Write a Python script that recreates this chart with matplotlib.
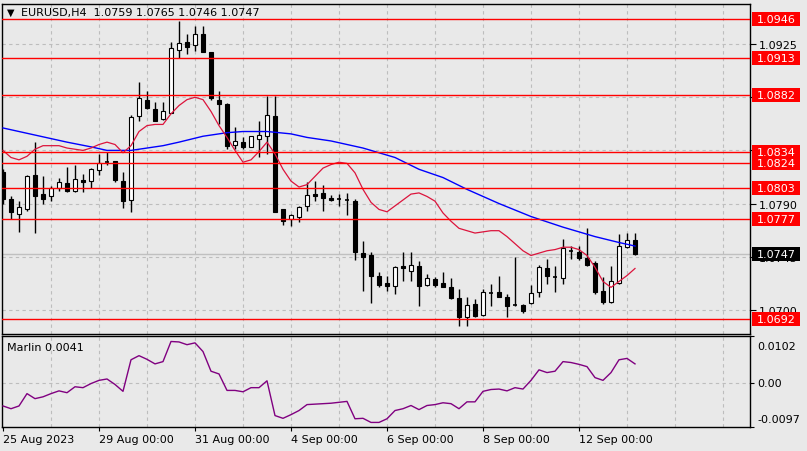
import matplotlib
matplotlib.use('Agg')
import matplotlib.pyplot as plt
from matplotlib.patches import Rectangle
import numpy as np

symbol = 'EURUSD,H4'

opens = [1.0817, 1.0794, 1.0781, 1.0785, 1.0814, 1.0798, 1.0796, 1.0803, 1.0807, 1.0801,
         1.0810, 1.0809, 1.0818, 1.0824, 1.0826, 1.0809, 1.0793, 1.0864, 1.0878, 1.0870,
         1.0862, 1.0867, 1.0920, 1.0927, 1.0924, 1.0934, 1.0918, 1.0878, 1.0874, 1.0840,
         1.0842, 1.0838, 1.0845, 1.0847, 1.0864, 1.0785, 1.0777, 1.0779, 1.0788, 1.0798,
         1.0799, 1.0795, 1.0794, 1.0793, 1.0792, 1.0748, 1.0746, 1.0729, 1.0723, 1.0720,
         1.0737, 1.0733, 1.0737, 1.0721, 1.0726, 1.0723, 1.0719, 1.0710, 1.0694, 1.0705,
         1.0696, 1.0714, 1.0715, 1.0711, 1.0705, 1.0704, 1.0706, 1.0715, 1.0735, 1.0728,
         1.0727, 1.0751, 1.0749, 1.0744, 1.0740, 1.0716, 1.0707, 1.0723, 1.0753, 1.0759]
highs = [1.0819, 1.0796, 1.0792, 1.0814, 1.0842, 1.0813, 1.0805, 1.0812, 1.0821, 1.0823,
         1.0815, 1.0820, 1.0832, 1.0834, 1.0826, 1.0817, 1.0865, 1.0893, 1.0885, 1.0876,
         1.0876, 1.0927, 1.0945, 1.0934, 1.0940, 1.0940, 1.0918, 1.0885, 1.0875, 1.0855,
         1.0846, 1.0847, 1.0860, 1.0881, 1.0881, 1.0785, 1.0781, 1.0788, 1.0808, 1.0809,
         1.0806, 1.0797, 1.0798, 1.0799, 1.0794, 1.0758, 1.0749, 1.0732, 1.0729, 1.0737,
         1.0749, 1.0749, 1.0741, 1.0730, 1.0728, 1.0732, 1.0727, 1.0718, 1.0711, 1.0709,
         1.0718, 1.0722, 1.0729, 1.0713, 1.0745, 1.0705, 1.0721, 1.0738, 1.0743, 1.0737,
         1.0760, 1.0754, 1.0754, 1.0769, 1.0741, 1.0728, 1.0737, 1.0764, 1.0765, 1.0765]
lows = [1.0790, 1.0777, 1.0766, 1.0784, 1.0765, 1.0790, 1.0792, 1.0801, 1.0800, 1.0800,
        1.0800, 1.0803, 1.0814, 1.0823, 1.0808, 1.0786, 1.0783, 1.0860, 1.0870, 1.0860,
        1.0861, 1.0867, 1.0913, 1.0917, 1.0919, 1.0918, 1.0878, 1.0857, 1.0836, 1.0836,
        1.0836, 1.0838, 1.0829, 1.0832, 1.0783, 1.0772, 1.0771, 1.0774, 1.0784, 1.0792,
        1.0784, 1.0792, 1.0788, 1.0780, 1.0742, 1.0716, 1.0706, 1.0719, 1.0716, 1.0713,
        1.0724, 1.0724, 1.0703, 1.0720, 1.0719, 1.0719, 1.0709, 1.0686, 1.0686, 1.0694,
        1.0695, 1.0703, 1.0711, 1.0694, 1.0703, 1.0697, 1.0705, 1.0711, 1.0722, 1.0715,
        1.0722, 1.0743, 1.0742, 1.0737, 1.0713, 1.0705, 1.0706, 1.0722, 1.0752, 1.0746]
closes = [1.0794, 1.0783, 1.0787, 1.0813, 1.0796, 1.0794, 1.0803, 1.0808, 1.0801, 1.0811,
          1.0808, 1.0819, 1.0824, 1.0825, 1.0810, 1.0792, 1.0863, 1.0879, 1.0871, 1.0860,
          1.0868, 1.0922, 1.0926, 1.0923, 1.0934, 1.0918, 1.0879, 1.0874, 1.0839, 1.0843,
          1.0838, 1.0847, 1.0848, 1.0865, 1.0783, 1.0775, 1.0780, 1.0787, 1.0797, 1.0796,
          1.0795, 1.0793, 1.0794, 1.0793, 1.0749, 1.0745, 1.0729, 1.0721, 1.0720, 1.0736,
          1.0735, 1.0738, 1.0720, 1.0727, 1.0721, 1.0719, 1.0710, 1.0694, 1.0704, 1.0695,
          1.0715, 1.0714, 1.0711, 1.0703, 1.0704, 1.0699, 1.0714, 1.0736, 1.0729, 1.0728,
          1.0752, 1.0750, 1.0744, 1.0738, 1.0715, 1.0707, 1.0724, 1.0754, 1.0759, 1.0747]

fast_ma = [1.0835, 1.0829, 1.0827, 1.0830, 1.0836, 1.0839, 1.0839, 1.0839, 1.0837, 1.0836,
           1.0835, 1.0837, 1.0840, 1.0842, 1.0840, 1.0833, 1.0839, 1.0851, 1.0856, 1.0857,
           1.0857, 1.0866, 1.0873, 1.0878, 1.0880, 1.0878, 1.0868, 1.0856, 1.0846, 1.0835,
           1.0825, 1.0827, 1.0834, 1.0842, 1.0832, 1.0819, 1.0809, 1.0804, 1.0806, 1.0813,
           1.0820, 1.0823, 1.0825, 1.0824, 1.0816, 1.0802, 1.0791, 1.0785, 1.0783, 1.0788,
           1.0793, 1.0798, 1.0799, 1.0796, 1.0792, 1.0782, 1.0775, 1.0769, 1.0767, 1.0765,
           1.0766, 1.0767, 1.0767, 1.0762, 1.0756, 1.0750, 1.0746, 1.0748, 1.0750, 1.0751,
           1.0753, 1.0753, 1.0751, 1.0746, 1.0736, 1.0724, 1.0719, 1.0724, 1.0729, 1.0735]

slow_ma_idx = [0, 4, 8, 11, 13, 16, 20, 22, 25, 28, 30, 33, 36, 38, 41, 45, 49, 52, 55, 58,
               62, 66, 70, 74, 77, 79]
slow_ma = [1.0854, 1.0848, 1.0842, 1.0838, 1.0835, 1.0835, 1.0839, 1.0842, 1.0847, 1.0850,
           1.0851, 1.0851, 1.0849, 1.0846, 1.0843, 1.0837, 1.0829, 1.0819, 1.0812, 1.0802,
           1.0790, 1.0779, 1.0770, 1.0762, 1.0757, 1.0754]

marlin = [-0.0051, -0.0057, -0.0051, -0.0024, -0.0035, -0.0031, -0.0024, -0.0018, -0.0022, -0.0009,
          -0.0011, -0.0002, 0.0005, 0.0008, -0.0004, -0.0019, 0.0050, 0.0059, 0.0051, 0.0041,
          0.0046, 0.0090, 0.0089, 0.0083, 0.0087, 0.0068, 0.0025, 0.0019, -0.0017, -0.0017,
          -0.0020, -0.0011, -0.0011, 0.0004, -0.0072, -0.0078, -0.0070, -0.0061, -0.0048, -0.0047,
          -0.0046, -0.0045, -0.0043, -0.0041, -0.0079, -0.0078, -0.0087, -0.0087, -0.0079, -0.0061,
          -0.0057, -0.0050, -0.0059, -0.0050, -0.0048, -0.0044, -0.0046, -0.0057, -0.0042, -0.0042,
          -0.0019, -0.0015, -0.0014, -0.0018, -0.0011, -0.0014, 0.0005, 0.0028, 0.0022, 0.0025,
          0.0046, 0.0044, 0.0040, 0.0035, 0.0011, 0.0005, 0.0022, 0.0050, 0.0053, 0.0041]

levels = [1.0946, 1.0913, 1.0882, 1.0834, 1.0824, 1.0803, 1.0777, 1.0692]
price_ticks = [1.0700, 1.0745, 1.0790, 1.0835, 1.0880, 1.0925]
price_tick_labels = ['1.0700', '1.0745', '1.0790', '', '', '1.0925']
bid = 1.0747
ind_ticks = [0.0102, 0.00, -0.0097]
ind_tick_labels = ['0.0102', '0.00', '-0.0097']
date_idx = [0, 12, 24, 36, 48, 60, 72]
date_labels = ['25 Aug 2023', '29 Aug 00:00', '31 Aug 00:00', '4 Sep 00:00',
               '6 Sep 00:00', '8 Sep 00:00', '12 Sep 00:00']
grid_idx = list(range(6, 92, 6))

BG = '#e9e9e9'
GRID = '#bdbdbd'
W, H = 807, 452
plt.rcParams['font.family'] = ['DejaVu Sans']

fig = plt.figure(figsize=(W / 100, H / 100), dpi=100, facecolor=BG)
ax = fig.add_axes([2 / W, 1 - 335 / H, 748 / W, 330 / H])
ax2 = fig.add_axes([2 / W, 1 - 428 / H, 748 / W, 91 / H])
for a in (ax, ax2):
    a.set_facecolor(BG)
    for s in a.spines.values():
        s.set_color('black')
        s.set_linewidth(1.0)
    a.set_xlim(-0.125, 93.375)
    for g in grid_idx:
        a.axvline(g, color=GRID, lw=0.8, ls=(0, (3, 3)), zorder=0.5)

o = np.array(opens); h = np.array(highs); l = np.array(lows); c = np.array(closes)
x = np.arange(len(c))

ax.set_ylim(1.06795, 1.0959)
for p in price_ticks:
    ax.axhline(p, color=GRID, lw=0.8, ls=(0, (3, 3)), zorder=0.5)
ax.axhline(bid, color='#c0c0c0', lw=1.0, zorder=0.8)

ax.vlines(x, l, h, color='black', lw=1.0, zorder=2)
body = np.abs(c - o)
doji = body < 0.00015
fc = ['white' if cc >= oo else 'black' for oo, cc in zip(o, c)]
ax.bar(x[~doji], body[~doji], bottom=np.minimum(o, c)[~doji], width=0.62,
       color=np.array(fc)[~doji], edgecolor='black', linewidth=0.8, zorder=3)
ax.hlines(c[doji], x[doji] - 0.31, x[doji] + 0.31, color='black', lw=1.2, zorder=3)

ax.plot(slow_ma_idx, slow_ma, color='#0000ff', lw=1.0, zorder=4)
ax.plot(x, fast_ma, color='#dc143c', lw=0.9, zorder=4)

for lv in levels:
    ax.axhline(lv, color='#ff0000', lw=1.0, zorder=5)

ax.yaxis.tick_right()
ax.set_yticks(price_ticks)
ax.set_yticklabels(price_tick_labels)
ax.tick_params(axis='y', direction='out', length=4, labelsize=8, pad=2, colors='black')
ax.set_xticks([])

box_h = 14 * (1.0959 - 1.06795) / 330
tr = ax.get_yaxis_transform()
for lv in levels:
    ax.add_patch(Rectangle((1.0027, lv - box_h / 2), 0.0642, box_h, transform=tr,
                           facecolor='#ff0000', edgecolor='none', clip_on=False, zorder=6))
    ax.text(1.0094, lv, f'{lv:.4f}', transform=tr, color='white', fontsize=8,
            va='center', ha='left', zorder=7, clip_on=False)
ax.add_patch(Rectangle((1.0027, bid - box_h / 2), 0.0642, box_h, transform=tr,
                       facecolor='black', edgecolor='none', clip_on=False, zorder=6))
ax.text(1.0094, bid, f'{bid:.4f}', transform=tr, color='white', fontsize=8,
        va='center', ha='left', zorder=7, clip_on=False)

fig.text(7 / W, 1 - 13 / H, '\u25bc', fontsize=7, va='center', ha='left')
fig.text(21 / W, 1 - 13 / H,
         f'{symbol}  {opens[-1]:.4f} {highs[-1]:.4f} {lows[-1]:.4f} {closes[-1]:.4f}',
         fontsize=8, va='center', ha='left')

# indicator
ax2.set_ylim(ind_ticks[2], ind_ticks[0])
ax2.axhline(0, color=GRID, lw=0.8, ls=(0, (3, 3)), zorder=0.5)
ax2.plot(x, marlin, color='#800080', lw=1.0, zorder=3)
ax2.yaxis.tick_right()
ax2.set_yticks(ind_ticks)
ax2.set_yticklabels(['', '', ''])
ax2.tick_params(axis='y', direction='out', length=3)
label_fracs = [(428 - 347) / 91, (428 - 384) / 91, (428 - 420) / 91]
for fr, t in zip(label_fracs, ind_tick_labels):
    ax2.text(1.0094, fr, t, transform=ax2.transAxes, fontsize=8, va='center', ha='left')
ax2.set_xticks(date_idx)
ax2.set_xticklabels(date_labels, ha='left', fontsize=8)
ax2.tick_params(axis='x', direction='out', length=3, pad=2)
fig.text(7 / W, 1 - 348 / H, f'Marlin {marlin[-1]:.4f}', fontsize=8, va='center', ha='left')

fig.savefig('out.png', dpi=100, facecolor=BG)
